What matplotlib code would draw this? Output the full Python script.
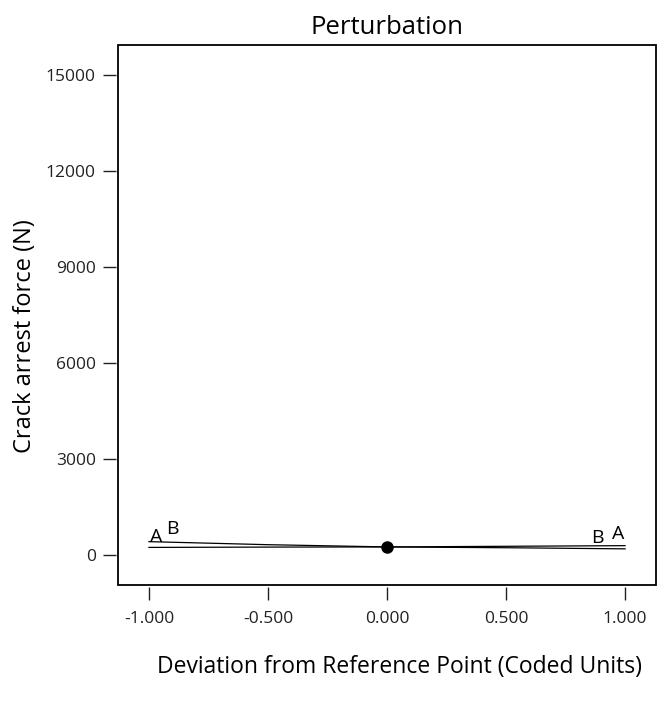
import numpy as np
import matplotlib
matplotlib.use('Agg')
import matplotlib.pyplot as plt
from matplotlib.patches import Rectangle

plt.rcParams['font.family'] = ['Open Sans', 'DejaVu Sans']

# coded deviation from the reference point
deviation = [-1.0, -0.5, 0.0, 0.5, 1.0]
# crack arrest force (N) along each factor trace
force_a = [235, 245, 250, 225, 190]
force_b = [415, 320, 250, 270, 290]
ref_point = (0.0, 250)

x_ticks = [-1.0, -0.5, 0.0, 0.5, 1.0]
y_ticks = [0, 3000, 6000, 9000, 12000, 15000]

fig = plt.figure(figsize=(6.57, 7.06), dpi=100)
ax = fig.add_axes([118 / 657, 1 - 585 / 706, (656 - 118) / 657, (585 - 45) / 706])

ax.plot(deviation, force_a, color='black', lw=0.9)
ax.plot(deviation, force_b, color='black', lw=0.9)
ax.plot(*ref_point, 'o', color='black', ms=8)

# trace labels at both ends
ax.text(deviation[0] + 0.03, force_a[0] + 30, 'A', ha='center', va='bottom', fontsize=14)
ax.text(deviation[0] + 0.10, force_b[0] + 120, 'B', ha='center', va='bottom', fontsize=14)
ax.text(deviation[-1] - 0.03, force_a[-1] + 180, 'A', ha='center', va='bottom', fontsize=14)
ax.text(deviation[-1] - 0.115, force_b[-1] - 40, 'B', ha='center', va='bottom', fontsize=14)

ax.set_xlim(-1.13, 1.13)
ax.set_ylim(-940, 15940)
ax.set_xticks(x_ticks)
ax.set_xticklabels([f'{v:.3f}' for v in x_ticks])
ax.set_yticks(y_ticks)
ax.set_yticklabels([str(v) for v in y_ticks])

# detached ticks, frame drawn separately
for side in ['left', 'bottom']:
    ax.spines[side].set_position(('outward', 1.5))
for side in ax.spines:
    ax.spines[side].set_visible(False)
ax.add_patch(Rectangle((0, 0), 1, 1, transform=ax.transAxes, fill=False,
                       lw=1.3, edgecolor='black', clip_on=False))

ax.tick_params(direction='out', length=9.5, width=1.0, pad=5, labelsize=12.5,
               colors='#222222')
ax.tick_params(axis='x', pad=8)

ax.set_title('Perturbation', fontsize=18.5, pad=8)
ax.set_xlabel('Deviation from Reference Point (Coded Units)', fontsize=16.5)
ax.set_ylabel('Crack arrest force (N)', fontsize=17)
ax.xaxis.set_label_coords(0.524, -0.13)
ax.yaxis.set_label_coords(-0.15, 0.46)

fig.savefig('out.png', dpi=100)
